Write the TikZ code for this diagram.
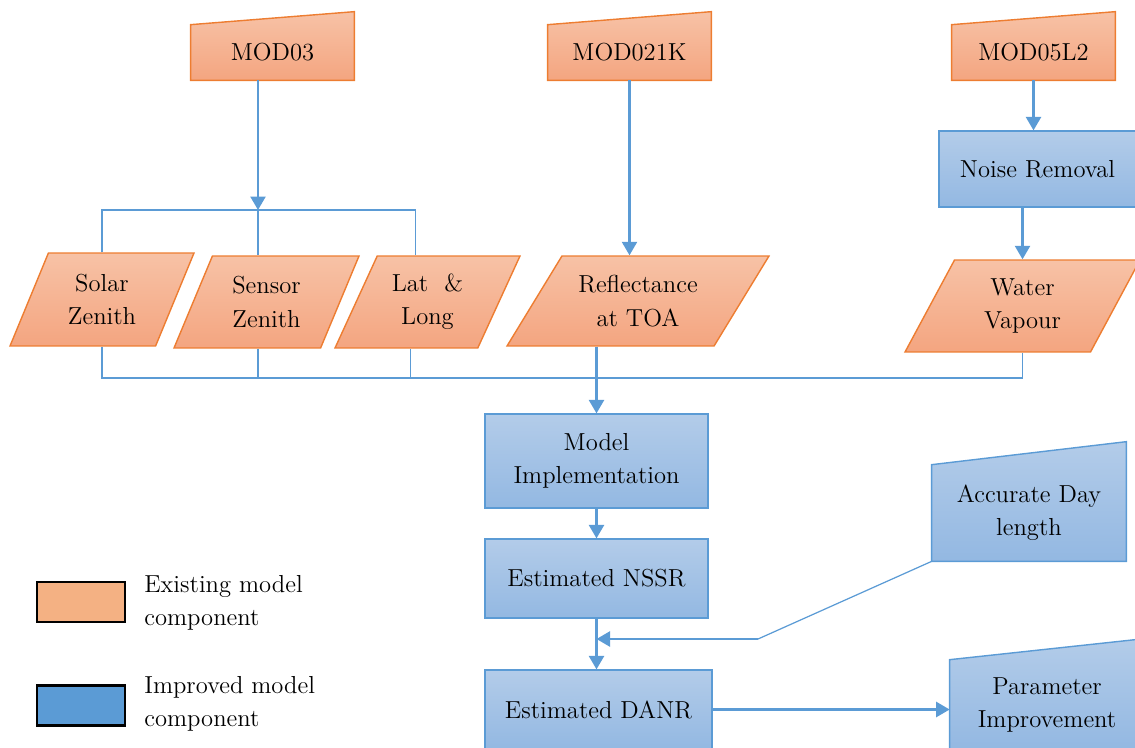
\documentclass[tikz,border=0pt]{standalone}
\usepackage{tikz}
\usetikzlibrary{arrows.meta,shapes.geometric,backgrounds,calc}

\definecolor{oldtop}{HTML}{F7C2A6}
\definecolor{oldbot}{HTML}{F4A580}
\definecolor{oldedge}{HTML}{ED7D31}
\definecolor{newtop}{HTML}{B3CCE9}
\definecolor{newbot}{HTML}{93B8E2}
\definecolor{newedge}{HTML}{5B9BD5}
\definecolor{keyorange}{HTML}{F4B183}
\definecolor{keyblue}{HTML}{5B9BD5}

\begin{document}
\begin{tikzpicture}[x=0.02cm,y=-0.02cm,
  font=\fontsize{14}{19}\selectfont,
  newbox/.style={draw=newedge,line width=0.7pt,top color=newtop,bottom color=newbot,align=center,inner sep=0pt},
  oldpar/.style={trapezium,trapezium stretches body,trapezium left angle=53,trapezium right angle=127,
    draw=oldedge,line width=0.8pt,top color=oldtop,bottom color=oldbot,align=center,inner sep=0pt},
  srcbox/.style={align=center,inner sep=0pt},
  arr/.style={draw=newedge,line width=1.4pt,-{Triangle[length=0.27cm,width=0.3cm]}},
  link/.style={draw=newedge,line width=0.7pt},
  keybox/.style={draw=black,line width=1.5pt,minimum width=1.76cm,minimum height=0.8cm}]
\useasboundingbox (0,0) rectangle (1135,747);

% data sources
\node[srcbox,minimum width=3.26cm,minimum height=1.1cm] (mod03) at (272.5,52.5) {MOD03};
\node[srcbox,minimum width=3.26cm,minimum height=1.1cm] (mod021k) at (629.5,52.5) {MOD021K};
\node[srcbox,minimum width=3.26cm,minimum height=1.1cm] (mod05l2) at (1033.5,52.5) {MOD05L2};
\node[srcbox,minimum width=3.88cm,minimum height=1.92cm] (daylen) at (1029,513) {Accurate Day\\length};
\node[srcbox,minimum width=3.88cm,minimum height=1.8cm] (param) at (1047,705) {Parameter\\Improvement};

% inputs
\node[oldpar,minimum width=3.68cm,minimum height=1.86cm] (solar) at (102,299.5) {Solar\\Zenith};
\node[oldpar,minimum width=3.7cm,minimum height=1.84cm] (sensor) at (266.5,302) {Sensor\\Zenith};
\node[oldpar,minimum width=3.7cm,minimum height=1.84cm] (lat) at (427.5,302) {Lat \ \&\\Long};
\node[oldpar,minimum width=5.24cm,minimum height=1.8cm,trapezium left angle=43,trapezium right angle=137] (refl) at (638,301) {Reflectance\\at TOA};
\node[oldpar,minimum width=4.7cm,minimum height=1.84cm,trapezium left angle=48,trapezium right angle=132] (water) at (1022.5,306) {Water\\Vapour};

% processing
\node[newbox,minimum width=3.94cm,minimum height=1.52cm] (noise) at (1037.5,169) {Noise Removal};
\node[newbox,minimum width=4.46cm,minimum height=1.88cm] (model) at (596.5,461) {Model\\Implementation};
\node[newbox,minimum width=4.46cm,minimum height=1.58cm] (nssr) at (596.5,578.5) {Estimated NSSR};
\node[newbox,minimum width=4.54cm,minimum height=1.58cm] (danr) at (598.5,709.5) {Estimated DANR};

\begin{scope}[on background layer]
\foreach \n/\col/\r in {mod03/old/0.26,mod021k/old/0.26,mod05l2/old/0.26,daylen/new/0.46,param/new/0.42}
  \draw[draw=\col edge,line width=0.8pt,top color=\col top,bottom color=\col bot]
    (\n.south west) -- (\n.south east) -- ([yshift=\r cm]\n.north east) -- (\n.north west) -- cycle;
\end{scope}

% connectors
\coordinate (topjoin) at (258,210);
\coordinate (botjoin) at (596.5,378);
\coordinate (bend) at (758,639);
\draw[arr] (mod03.south -| topjoin) -- (topjoin);
\draw[link] (solar.north) |- (topjoin) -| ([xshift=-0.24cm]lat.north);
\draw[link] (topjoin) -- (topjoin |- sensor.north);
\draw[link] (solar.south) |- (botjoin) -| (water.south);
\draw[link] (topjoin |- sensor.south) -- (topjoin |- botjoin);
\draw[link] ([xshift=-0.34cm]lat.south) -- ([xshift=-0.34cm]lat.south |- botjoin);
\draw[arr] (mod021k.south) -- (mod021k.south |- refl.north);
\draw[arr] (refl.south -| model.north) -- (model.north);
\draw[arr] (mod05l2.south) -- (mod05l2.south |- noise.north);
\draw[arr] (noise.south -| water.north) -- (water.north);
\draw[arr] (model.south) -- (nssr.north);
\draw[arr] (nssr.south) -- (nssr.south |- danr.north);
\draw[link] (daylen.south west) -- (bend);
\draw[arr] (bend) -- (bend -| nssr.south);
\draw[arr] (danr.east) -- (danr.east -| param.west);

% legend
\node[keybox,fill=keyorange] (keyold) at (81,602) {};
\node[anchor=west,align=left,inner sep=0pt] (keyoldtext) at (144,603) {Existing model\\component};
\node[keybox,fill=keyblue] (keynew) at (81,705.5) {};
\node[anchor=west,align=left,inner sep=0pt] (keynewtext) at (144,704) {Improved model\\component};
\end{tikzpicture}
\end{document}
